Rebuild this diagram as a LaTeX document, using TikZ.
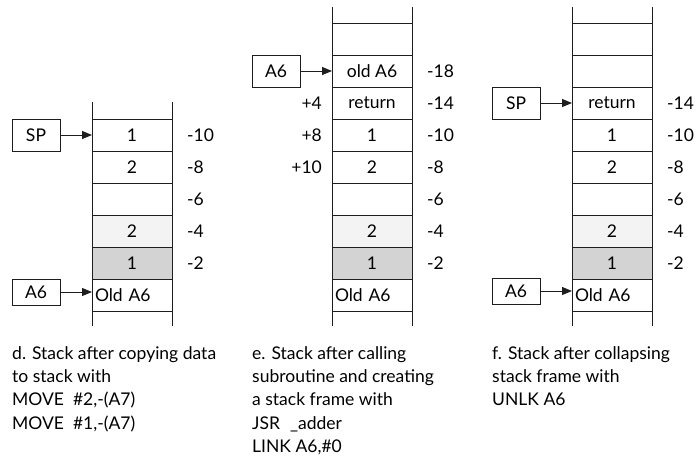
\documentclass[tikz,border=0pt]{standalone}
\usepackage{fontspec}
\setmainfont{Lato}
\usetikzlibrary{arrows.meta}
\definecolor{ink}{HTML}{1E1E1E}
\definecolor{lightcell}{HTML}{F3F3F3}
\definecolor{darkcell}{HTML}{D3D3D3}
\newcommand{\labelsize}{\fontsize{17.5}{20}\selectfont}
\tikzset{
  cell/.style={draw=ink, line width=1pt, minimum width=80pt, minimum height=32pt,
    inner sep=0pt, outer sep=0pt, font=\labelsize},
  oldcell/.style={cell, text width=74pt, align=left},
  regbox/.style={draw=ink, line width=1pt, minimum width=48pt, inner sep=0pt,
    outer sep=0pt, font=\labelsize},
  ptr/.style={draw=ink, line width=1pt, -{Triangle[length=10pt,width=8pt]}},
  rail/.style={draw=ink, line width=1pt},
  offs/.style={anchor=west, inner sep=0pt, font=\labelsize},
  loffs/.style={anchor=east, inner sep=0pt, font=\labelsize},
  caption/.style={anchor=north west, inner sep=0pt, align=left,
    font=\fontsize{17.5}{23.4}\selectfont}
}
\begin{document}
\begin{tikzpicture}[x=1pt, y=-1pt]
\useasboundingbox (0,0) rectangle (696,458);

% ---------- d: after copying data ----------
\node[cell] (d1) at (132,135) {1};
\node[cell] (d2) at (132,167) {2};
\node[cell] (d3) at (132,199) {};
\node[cell, fill=lightcell] (d4) at (132,231) {2};
\node[cell, fill=darkcell] (d5) at (132,263) {1};
\node[oldcell] (d6) at (132,295) {Old A6};
\coordinate (dTL) at (92,102);
\coordinate (dTR) at (172,102);
\coordinate (dBL) at (92,326);
\coordinate (dBR) at (172,326);
\draw[rail] (dTL) -- (d1.north west);
\draw[rail] (dTR) -- (d1.north east);
\draw[rail] (d6.south west) -- (dBL);
\draw[rail] (d6.south east) -- (dBR);

\node[regbox, minimum height=32pt] (dsp) at (36,135) {SP};
\node[regbox, minimum height=26pt] (da6) at (36,292) {A6};
\draw[ptr] (dsp.east) -- (d1.west);
\draw[ptr] (da6.east) -- (d6.west |- da6.east);

\node[offs] (dl1) at (187,135) {-10};
\node[offs] (dl2) at (187,167) {-8};
\node[offs] (dl3) at (187,199) {-6};
\node[offs] (dl4) at (187,231) {-4};
\node[offs] (dl5) at (187,263) {-2};

% ---------- e: after JSR and LINK ----------
\node[cell] (e1) at (372,39) {};
\node[cell] (e2) at (372,71) {old A6};
\node[cell] (e3) at (372,103) {return};
\node[cell] (e4) at (372,135) {1};
\node[cell] (e5) at (372,167) {2};
\node[cell] (e6) at (372,199) {};
\node[cell, fill=lightcell] (e7) at (372,231) {2};
\node[cell, fill=darkcell] (e8) at (372,263) {1};
\node[oldcell] (e9) at (372,295) {Old A6};
\coordinate (eTL) at (332,7);
\coordinate (eTR) at (412,7);
\coordinate (eBL) at (332,326);
\coordinate (eBR) at (412,326);
\draw[rail] (eTL) -- (e1.north west);
\draw[rail] (eTR) -- (e1.north east);
\draw[rail] (e9.south west) -- (eBL);
\draw[rail] (e9.south east) -- (eBR);

\node[regbox, minimum height=32pt] (ea6) at (276,71) {A6};
\draw[ptr] (ea6.east) -- (e2.west);

\node[loffs] (el1) at (322,103) {+4};
\node[loffs] (el2) at (322,135) {+8};
\node[loffs] (el3) at (322,167) {+10};

\node[offs] (er1) at (427,71) {-18};
\node[offs] (er2) at (427,103) {-14};
\node[offs] (er3) at (427,135) {-10};
\node[offs] (er4) at (427,167) {-8};
\node[offs] (er5) at (427,199) {-6};
\node[offs] (er6) at (427,231) {-4};
\node[offs] (er7) at (427,263) {-2};

% ---------- f: after UNLK ----------
\node[cell] (f1) at (612,39) {};
\node[cell] (f2) at (612,71) {};
\node[cell] (f3) at (612,103) {return};
\node[cell] (f4) at (612,135) {1};
\node[cell] (f5) at (612,167) {2};
\node[cell] (f6) at (612,199) {};
\node[cell, fill=lightcell] (f7) at (612,231) {2};
\node[cell, fill=darkcell] (f8) at (612,263) {1};
\node[oldcell] (f9) at (612,295) {Old A6};
\coordinate (fTL) at (572,7);
\coordinate (fTR) at (652,7);
\coordinate (fBL) at (572,326);
\coordinate (fBR) at (652,326);
\draw[rail] (fTL) -- (f1.north west);
\draw[rail] (fTR) -- (f1.north east);
\draw[rail] (f9.south west) -- (fBL);
\draw[rail] (f9.south east) -- (fBR);

\node[regbox, minimum height=32pt] (fsp) at (516,103) {SP};
\node[regbox, minimum height=26pt] (fa6) at (516,291) {A6};
\draw[ptr] (fsp.east) -- (f3.west);
\draw[ptr] (fa6.east) -- (f9.west |- fa6.east);

\node[offs] (fr1) at (667,103) {-14};
\node[offs] (fr2) at (667,135) {-10};
\node[offs] (fr3) at (667,167) {-8};
\node[offs] (fr4) at (667,199) {-6};
\node[offs] (fr5) at (667,231) {-4};
\node[offs] (fr6) at (667,263) {-2};

% ---------- captions ----------
\node[caption] (capd) at (12,346) {d. Stack after copying data\\to stack with\\MOVE\ \ \#2,-(A7)\\MOVE\ \ \#1,-(A7)};
\node[caption] (cape) at (252,346) {e. Stack after calling\\subroutine and creating\\a stack frame with\\JSR\hspace{10pt}\_adder\\LINK A6,\#0};
\node[caption] (capf) at (492,346) {f. Stack after collapsing\\stack frame with\\UNLK A6};
\end{tikzpicture}
\end{document}
